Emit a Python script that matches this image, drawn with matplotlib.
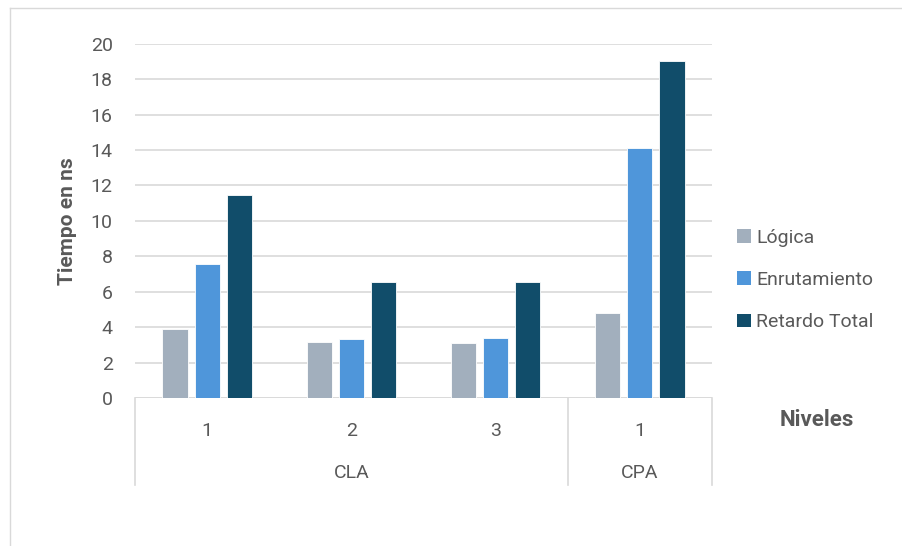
import numpy as np
import matplotlib
matplotlib.use('Agg')
import matplotlib.pyplot as plt
from matplotlib.patches import Patch
from matplotlib.lines import Line2D

# datos de los sumadores
niveles = ['1', '2', '3', '1']
familias = ['CLA', 'CPA']
familia_span = [(0, 2), (3, 3)]
series = ['Lógica', 'Enrutamiento', 'Retardo Total']
logica = [3.9, 3.15, 3.12, 4.8]
enrutamiento = [7.55, 3.35, 3.38, 14.1]
retardo_total = [11.45, 6.55, 6.55, 19.0]

colores = ['#A2AFBD', '#4F96DA', '#114D6A']
texto = '#595959'
rejilla = '#D9D9D9'

plt.rcParams['font.family'] = ['Roboto', 'DejaVu Sans']

fig = plt.figure(figsize=(9.03, 5.46), dpi=100)
ax = fig.add_axes([135/903, 148/546, 577/903, 354.3/546])

x = np.arange(len(niveles))
ancho = 0.175
paso = 0.222
for i, (vals, col) in enumerate(zip([logica, enrutamiento, retardo_total], colores)):
    ax.bar(x + (i - 1) * paso, vals, ancho, color=col, edgecolor='white',
           linewidth=0.6, zorder=3)

ax.set_xlim(-0.5, len(niveles) - 0.5)
ax.set_ylim(0, 20)
ax.set_yticks(np.arange(0, 21, 2))
ax.yaxis.grid(True, color=rejilla, linewidth=1.2, zorder=0)
ax.tick_params(axis='y', length=0, pad=16, labelsize=14, labelcolor=texto)
for s in ax.spines.values():
    s.set_visible(False)

# eje de categorias en dos niveles
ax.set_xticks(x)
ax.set_xticklabels(niveles)
ax.tick_params(axis='x', length=0, pad=17, labelsize=14, labelcolor=texto)
ax.axhline(0, color=rejilla, linewidth=1.2, zorder=2)
tr = ax.get_xaxis_transform()
for xs in [-0.5, 2.5, 3.5]:
    ax.add_line(Line2D([xs, xs], [0, -0.245], transform=tr, color=rejilla,
                       linewidth=1.2, clip_on=False))
for fam, (a, b) in zip(familias, familia_span):
    ax.text((a + b) / 2, -0.212, fam, transform=tr, ha='center', va='center',
            fontsize=14, color=texto)

ax.set_ylabel('Tiempo en ns', fontsize=15, fontweight='bold', color=texto,
              labelpad=10)
fig.text(817/903, 1 - 420/546, 'Niveles', ha='center', va='center',
         fontsize=16, fontweight='bold', color=texto)

handles = [Patch(facecolor=c, edgecolor='none') for c in colores]
fig.legend(handles, series, loc='center left', bbox_to_anchor=(720/903, 1 - 280/546),
           frameon=False, fontsize=14, labelcolor=texto, handlelength=0.7,
           handleheight=0.7, handletextpad=0.25, labelspacing=1.25)

# marco exterior
fig.add_artist(Line2D([10/903, 1], [1 - 8/546, 1 - 8/546], color=rejilla, linewidth=1))
fig.add_artist(Line2D([10/903, 10/903], [0, 1 - 8/546], color=rejilla, linewidth=1))

fig.savefig('out.png', dpi=100)
